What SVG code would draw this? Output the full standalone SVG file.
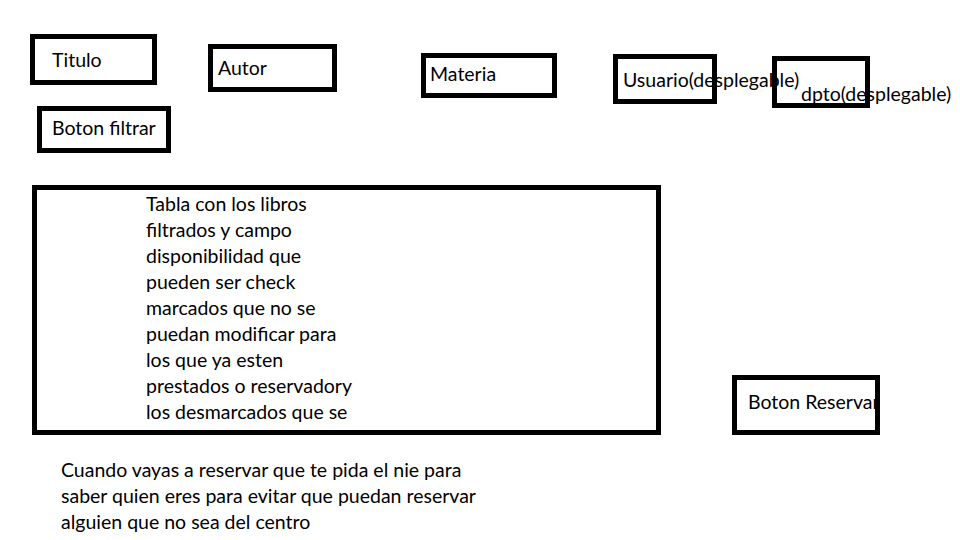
<svg xmlns="http://www.w3.org/2000/svg" width="960" height="540" viewBox="0 0 960 540">
<style>
.box{fill:none;stroke:#000;stroke-width:5}
.t{font-family:Lato,"Liberation Sans",sans-serif;font-size:19.5px;fill:#000}
</style>
<rect width="960" height="540" fill="#fff"/>
<g id="titulo"><rect class="box" x="32.5" y="36.5" width="122" height="46"/><text class="t" x="52" y="67">Titulo</text></g>
<g id="autor"><rect class="box" x="210.5" y="46.5" width="124" height="43"/><text class="t" x="218" y="75">Autor</text></g>
<g id="materia"><rect class="box" x="423.5" y="55.5" width="131" height="40"/><text class="t" x="430" y="81">Materia</text></g>
<g id="usuario"><text class="t" x="623" y="87">Usuario(desplegable)</text><rect class="box" x="615.5" y="56.5" width="99" height="45"/></g>
<g id="dpto"><text class="t" x="801" y="101">dpto(desplegable)</text><rect class="box" x="774.5" y="58.5" width="93" height="47"/></g>
<g id="boton-filtrar"><rect class="box" x="39.5" y="108.5" width="129" height="42"/><text class="t" x="52" y="135">Boton filtrar</text></g>
<g id="tabla"><rect class="box" x="34.5" y="187.5" width="624" height="245"/>
<text class="t"><tspan x="146" y="211">Tabla con los libros</tspan><tspan x="146" y="237">filtrados y campo</tspan><tspan x="146" y="263">disponibilidad que</tspan><tspan x="146" y="289">pueden ser check</tspan><tspan x="146" y="315">marcados que no se</tspan><tspan x="146" y="341">puedan modificar para</tspan><tspan x="146" y="367">los que ya esten</tspan><tspan x="146" y="393">prestados o reservadory</tspan><tspan x="146" y="419">los desmarcados que se</tspan></text></g>
<g id="boton-reservar"><text class="t" x="748" y="409">Boton Reservar</text><rect class="box" x="734.5" y="377.5" width="143" height="55"/></g>
<g id="nota"><text class="t"><tspan x="61" y="477">Cuando vayas a reservar que te pida el nie para</tspan><tspan x="61" y="503">saber quien eres para evitar que puedan reservar</tspan><tspan x="61" y="529">alguien que no sea del centro</tspan></text></g>
<g id="connectors"/>
</svg>
